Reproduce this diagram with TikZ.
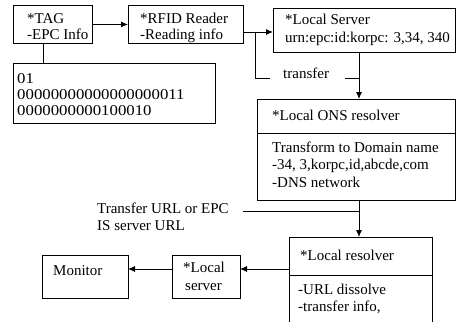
\documentclass[tikz,border=0pt]{standalone}
\usepackage{fontspec}
\setmainfont{Liberation Serif}
\newfontfamily\digitfont[FakeStretch=1.12]{Liberation Serif}
\usetikzlibrary{arrows.meta,calc}
\begin{document}
\begin{tikzpicture}[x=1pt,y=-1pt,
  box/.style={draw,line width=0.9pt,inner sep=0pt,anchor=north west},
  txt/.style={anchor=base west,inner sep=0pt,font=\fontsize{15}{17}\selectfont},
  dig/.style={anchor=base west,inner sep=0pt,font=\digitfont\fontsize{15}{17}\selectfont},
  arr/.style={-{Latex[length=7pt,width=6pt]},line width=0.9pt},
  ln/.style={line width=0.9pt}]
\useasboundingbox (0,0) rectangle (457,321);
% boxes
\node[box,minimum width=79pt,minimum height=38pt] (tag) at (13,5) {};
\node[box,minimum width=115pt,minimum height=38pt] (rfid) at (128,5) {};
\node[box,minimum width=202pt,minimum height=60pt] (epc) at (13,63) {};
\node[box,minimum width=182pt,minimum height=44pt] (ls) at (273,8) {};
\node[box,minimum width=198pt,minimum height=101pt] (ons) at (257,99) {};
\node[box,minimum width=68pt,minimum height=43pt] (lsv) at (172,255) {};
\node[box,minimum width=86pt,minimum height=43pt] (mon) at (42,255) {};
% local resolver (open at bottom)
\draw[ln] (289,325) -- (289,237) -- (432,237) -- (432,325);
\draw[ln] (289,275) -- (432,275);
\draw[ln] (ons.west |- 0,133) -- (ons.east |- 0,133);
% texts
\node[txt] (t1) at (27,24) {*TAG};
\node[txt] (t2) at (27,40) {-EPC Info};
\node[txt] (t3) at (140,24) {*RFID Reader};
\node[txt] (t4) at (140,40) {-Reading info};
\node[txt] (t5) at (285,25) {*Local Server};
\node[txt] (t6) at (285,42) {urn:epc:id:korpc: 3,34, 340};
\node[dig] (t7) at (17,83) {01};
\node[dig] (t8) at (17,99) {00000000000000000011};
\node[dig] (t9) at (17,115) {0000000000100010};
\node[txt] (t10) at (283,78) {transfer};
\node[txt] (t11) at (272,120) {*Local ONS resolver};
\node[txt] (t12) at (272,152) {Transform to Domain name};
\node[txt] (t13) at (272,169) {-34, 3,korpc,id,abcde,com};
\node[txt] (t14) at (272,187) {-DNS network};
\node[txt] (t15) at (97,213) {Transfer URL or EPC};
\node[txt] (t16) at (97,230) {IS server URL};
\node[txt] (t17) at (300,260) {*Local resolver};
\node[txt] (t18) at (298,294) {-URL dissolve};
\node[txt] (t19) at (298,311) {-transfer info,};
\node[txt] (t20) at (183,272) {*Local};
\node[txt] (t21) at (185,290) {server};
\node[txt] (t22) at (53,275) {Monitor};
% connector coordinates
\coordinate (c1) at (243,32);
\coordinate (c2) at (273,32);
\coordinate (c3) at (255,32);
\coordinate (c4) at (270,78);
\coordinate (c5) at (345,78);
\coordinate (c6) at (359,78);
\coordinate (c7) at (359,52);
\coordinate (c8) at (359,99);
\coordinate (c9) at (243,211);
\coordinate (c10) at (359,211);
\coordinate (c11) at (359,200);
\coordinate (c12) at (359,237);
\coordinate (c13) at (289,269);
\coordinate (c14) at (240,269);
\coordinate (c15) at (172,269);
\coordinate (c16) at (128,269);
\coordinate (c17) at (43,43);
\coordinate (c18) at (43,63);
% connectors
\draw[arr] (tag.east) -- (rfid.west);
\draw[ln] (c17) -- (c18);
\draw[arr] (c1) -- (c2);
\draw[ln] (c3) |- (c4);
\draw[ln] (c5) -- (c6);
\draw[arr] (c7) -- (c8);
\draw[ln] (c9) -- (c10);
\draw[arr] (c11) -- (c12);
\draw[arr] (c13) -- (c14);
\draw[arr] (c15) -- (c16);
\end{tikzpicture}
\end{document}
